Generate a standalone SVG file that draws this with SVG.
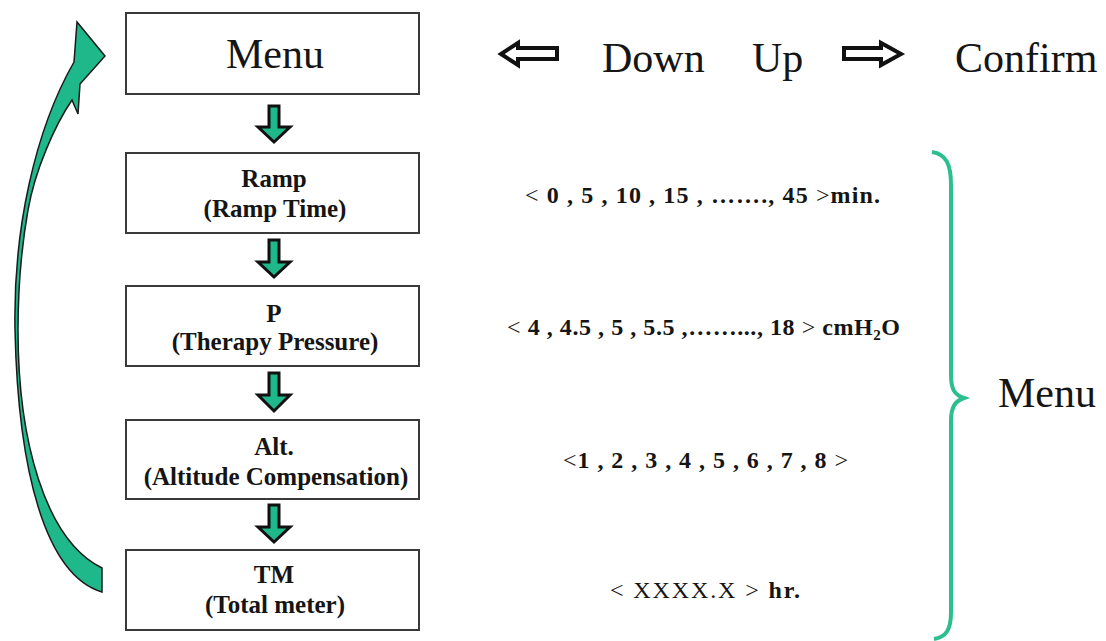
<svg xmlns="http://www.w3.org/2000/svg" width="1106" height="641" viewBox="0 0 1106 641">
<style>
.box{fill:#fff;stroke:#3a3a3a;stroke-width:2}
.lbl{font-family:"Liberation Serif","Times New Roman",serif;font-weight:bold;font-size:25px;text-anchor:middle;fill:#151515}
.big{font-family:"Liberation Serif","Times New Roman",serif;font-size:42px;fill:#151515}
.val{font-family:"Liberation Serif","Times New Roman",serif;font-size:24px;fill:#151515}
.b{font-weight:bold}
.dn{fill:#1fb88a;stroke:#111;stroke-width:3;stroke-linejoin:miter}
.hollow{fill:#fff;stroke:#111;stroke-width:4;stroke-linejoin:miter}
</style>
<rect width="1106" height="641" fill="#fff"/>

<g id="node-menu">
<rect class="box" x="126" y="13" width="293" height="81"/>
<text class="big" x="275" y="68" text-anchor="middle">Menu</text>
</g>
<g id="node-ramp">
<rect class="box" x="126" y="153" width="293" height="80"/>
<text class="lbl" x="274" y="187">Ramp</text>
<text class="lbl" x="275" y="217">(Ramp Time)</text>
</g>
<g id="node-p">
<rect class="box" x="126" y="286" width="293" height="80"/>
<text class="lbl" x="274" y="322">P</text>
<text class="lbl" x="275" y="350">(Therapy Pressure)</text>
</g>
<g id="node-alt">
<rect class="box" x="126" y="420" width="293" height="79"/>
<text class="lbl" x="274" y="455">Alt.</text>
<text class="lbl" x="276" y="485">(Altitude Compensation)</text>
</g>
<g id="node-tm">
<rect class="box" x="126" y="550" width="293" height="80"/>
<text class="lbl" x="274" y="583">TM</text>
<text class="lbl" x="275" y="613">(Total meter)</text>
</g>

<g id="connectors">
<path class="dn" d="M269 106 H279 V127 H290 L274 142 L258 127 H269 Z"/>
<path class="dn" d="M269 240 H279 V262 H290 L274 277 L258 262 H269 Z"/>
<path class="dn" d="M269 373 H279 V395 H290 L274 411 L258 395 H269 Z"/>
<path class="dn" d="M269 505 H279 V527 H290 L274 542 L258 527 H269 Z"/>
<path d="M102 592 C45 575 18 470 15 330 C13 230 35 130 74 62 L77 22 L105 56 L80 84 L78 114 L72 100 C55 125 35 170 28 210 C21 250 18 290 18 330 C18 440 45 540 102 568 Z" fill="#1fb88a" stroke="#1a1a1a" stroke-width="1.5" stroke-linejoin="miter"/>
</g>

<g id="keys">
<path class="hollow" d="M557 48 H518 V43 L501 54 L518 65 V59 H557 Z"/>
<text class="big" x="602" y="72">Down</text>
<text class="big" x="752" y="72">Up</text>
<path class="hollow" d="M844 48 H881 V43 L901 54 L881 65 V59 H844 Z"/>
<text class="big" x="955" y="72">Confirm</text>
</g>

<g id="values">
<text class="val" x="525" y="203" textLength="355"><tspan>&lt;  </tspan><tspan class="b">0 ,  5 , 10 , 15 , ……., 45 </tspan><tspan>&gt;</tspan><tspan class="b">min.</tspan></text>
<text class="val" x="507" y="335" textLength="393"><tspan>&lt;  </tspan><tspan class="b">4 , 4.5 , 5 , 5.5 ,……..., 18  </tspan><tspan>&gt; </tspan><tspan class="b">cmH</tspan><tspan class="b" font-size="15" dy="5">2</tspan><tspan class="b" dy="-5">O</tspan></text>
<text class="val" x="563" y="468" textLength="285"><tspan>&lt;</tspan><tspan class="b">1 , 2 , 3 , 4 , 5 , 6 , 7 , 8 </tspan><tspan>&gt;</tspan></text>
<text class="val" x="610" y="598" textLength="190"><tspan>&lt;  XXXX.X &gt; </tspan><tspan class="b">hr.</tspan></text>
</g>

<g id="menu-brace">
<path d="M932 152 C946 154 951 164 951 185 L951 375 C951 390 955 395 964 398 C955 401 951 407 951 421 L951 612 C951 630 946 637 934 639" fill="none" stroke="#2cbf8e" stroke-width="4"/>
<text class="big" x="998" y="407">Menu</text>
</g>
</svg>
